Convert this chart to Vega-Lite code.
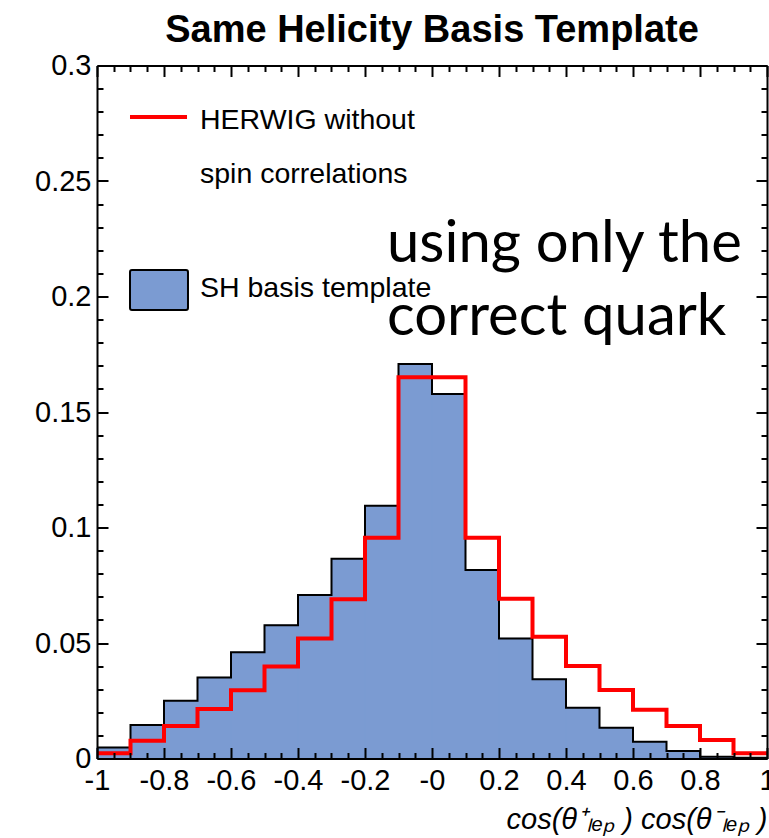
{
  "$schema": "https://vega.github.io/schema/vega-lite/v6.json",
  "width": 670,
  "height": 693,
  "autosize": {"type": "none"},
  "padding": {"left": 97, "top": 65.5, "right": 2, "bottom": 79.5},
  "background": "white",
  "config": {"view": {"stroke": null}, "font": "Liberation Sans"},
  "title": {
    "text": "Same Helicity Basis Template",
    "font": "Liberation Sans",
    "fontSize": 38,
    "fontWeight": "bold",
    "color": "black",
    "anchor": "middle",
    "baseline": "alphabetic",
    "offset": -28
  },
  "datasets": {
    "bins": [
      {"lo": -1, "hi": -0.9, "sh": 0.0048, "hw": 0.0023},
      {"lo": -0.9, "hi": -0.8, "sh": 0.0145, "hw": 0.0077},
      {"lo": -0.8, "hi": -0.7, "sh": 0.025, "hw": 0.0141},
      {"lo": -0.7, "hi": -0.6, "sh": 0.0351, "hw": 0.0214},
      {"lo": -0.6, "hi": -0.5, "sh": 0.046, "hw": 0.0295},
      {"lo": -0.5, "hi": -0.4, "sh": 0.0577, "hw": 0.0398},
      {"lo": -0.4, "hi": -0.3, "sh": 0.0708, "hw": 0.052},
      {"lo": -0.3, "hi": -0.2, "sh": 0.0865, "hw": 0.0689},
      {"lo": -0.2, "hi": -0.1, "sh": 0.1094, "hw": 0.0956},
      {"lo": -0.1, "hi": 0, "sh": 0.1708, "hw": 0.165},
      {"lo": 0, "hi": 0.1, "sh": 0.1578, "hw": 0.165},
      {"lo": 0.1, "hi": 0.2, "sh": 0.0816, "hw": 0.0956},
      {"lo": 0.2, "hi": 0.3, "sh": 0.052, "hw": 0.0692},
      {"lo": 0.3, "hi": 0.4, "sh": 0.0343, "hw": 0.0527},
      {"lo": 0.4, "hi": 0.5, "sh": 0.022, "hw": 0.04},
      {"lo": 0.5, "hi": 0.6, "sh": 0.0133, "hw": 0.0297},
      {"lo": 0.6, "hi": 0.7, "sh": 0.0073, "hw": 0.0211},
      {"lo": 0.7, "hi": 0.8, "sh": 0.0032, "hw": 0.0141},
      {"lo": 0.8, "hi": 0.9, "sh": 0.0008, "hw": 0.008},
      {"lo": 0.9, "hi": 1, "sh": 0.0003, "hw": 0.0023}
    ]
  },
  "resolve": {"axis": {"x": "independent", "y": "independent"}},
  "layer": [
    {
      "data": {"name": "bins"},
      "mark": {"type": "rect", "fill": "#7b9bd2", "stroke": "#7b9bd2", "strokeWidth": 1},
      "encoding": {
        "x": {
          "field": "lo", "type": "quantitative",
          "scale": {"domain": [-1, 1], "nice": false, "zero": false},
          "axis": {
            "orient": "bottom",
            "values": [-1,-0.95,-0.9,-0.85,-0.8,-0.75,-0.7,-0.65,-0.6,-0.55,-0.5,-0.45,-0.4,-0.35,-0.3,-0.25,-0.2,-0.15,-0.1,-0.05,0,0.05,0.1,0.15,0.2,0.25,0.3,0.35,0.4,0.45,0.5,0.55,0.6,0.65,0.7,0.75,0.8,0.85,0.9,0.95,1],
            "tickSize": {"condition": {"test": "abs(round(datum.value*20)) % 4 == 0", "value": -11}, "value": -6},
            "tickWidth": 2, "tickColor": "black",
            "domainColor": "black", "domainWidth": 2,
            "grid": false,
            "labelExpr": "abs(round(datum.value*20)) % 4 == 0 ? (datum.value == 0 ? '-0' : '' + datum.value) : ''",
            "labelFont": "Liberation Sans", "labelFontSize": 29, "labelColor": "black",
            "labelPadding": 19, "labelFlush": false, "labelOverlap": false, "labelBound": false,
            "title": "cos(θ⁺ₗₑₚ ) cos(θ⁻ₗₑₚ )",
            "titleFont": "Liberation Sans", "titleFontSize": 29, "titleFontStyle": "italic", "titleFontWeight": "normal",
            "titleColor": "black", "titleAnchor": "end", "titlePadding": 5,
            "zindex": 1
          }
        },
        "x2": {"field": "hi"},
        "y": {
          "field": "sh", "type": "quantitative",
          "scale": {"domain": [0, 0.3], "nice": false},
          "axis": {
            "orient": "left",
            "values": [0,0.01,0.02,0.03,0.04,0.05,0.06,0.07,0.08,0.09,0.1,0.11,0.12,0.13,0.14,0.15,0.16,0.17,0.18,0.19,0.2,0.21,0.22,0.23,0.24,0.25,0.26,0.27,0.28,0.29,0.3],
            "tickSize": {"condition": {"test": "abs(round(datum.value*100)) % 5 == 0", "value": -11}, "value": -6},
            "tickWidth": 2, "tickColor": "black",
            "domainColor": "black", "domainWidth": 2,
            "grid": false,
            "labelExpr": "abs(round(datum.value*100)) % 5 == 0 ? '' + datum.value : ''",
            "labelFont": "Liberation Sans", "labelFontSize": 29, "labelColor": "black",
            "labelPadding": 17, "labelFlush": false, "labelOverlap": false, "labelBound": false,
            "title": null,
            "zindex": 1
          }
        },
        "y2": {"datum": 0}
      }
    },
    {
      "data": {"name": "bins"},
      "transform": [{"fold": ["lo", "hi"], "as": ["edge", "xe"]}],
      "mark": {"type": "line", "color": "black", "strokeWidth": 2, "strokeJoin": "miter"},
      "encoding": {
        "x": {
          "field": "xe", "type": "quantitative",
          "axis": {
            "orient": "top",
            "values": [-1,-0.95,-0.9,-0.85,-0.8,-0.75,-0.7,-0.65,-0.6,-0.55,-0.5,-0.45,-0.4,-0.35,-0.3,-0.25,-0.2,-0.15,-0.1,-0.05,0,0.05,0.1,0.15,0.2,0.25,0.3,0.35,0.4,0.45,0.5,0.55,0.6,0.65,0.7,0.75,0.8,0.85,0.9,0.95,1],
            "tickSize": {"condition": {"test": "abs(round(datum.value*20)) % 4 == 0", "value": -11}, "value": -6},
            "tickWidth": 2, "tickColor": "black",
            "domainColor": "black", "domainWidth": 2,
            "grid": false, "labels": false, "title": null, "zindex": 1
          }
        },
        "y": {
          "field": "sh", "type": "quantitative",
          "axis": {
            "orient": "right",
            "values": [0,0.01,0.02,0.03,0.04,0.05,0.06,0.07,0.08,0.09,0.1,0.11,0.12,0.13,0.14,0.15,0.16,0.17,0.18,0.19,0.2,0.21,0.22,0.23,0.24,0.25,0.26,0.27,0.28,0.29,0.3],
            "tickSize": {"condition": {"test": "abs(round(datum.value*100)) % 5 == 0", "value": -11}, "value": -6},
            "tickWidth": 2, "tickColor": "black",
            "domainColor": "black", "domainWidth": 2,
            "grid": false, "labels": false, "title": null, "zindex": 1
          }
        },
        "order": [{"field": "xe", "type": "quantitative"}, {"field": "edge", "type": "ordinal"}]
      }
    },
    {
      "data": {"name": "bins"},
      "transform": [{"fold": ["lo", "hi"], "as": ["edge", "xe"]}],
      "mark": {"type": "line", "color": "#ff0000", "strokeWidth": 4, "strokeJoin": "miter"},
      "encoding": {
        "x": {"field": "xe", "type": "quantitative", "axis": null},
        "y": {"field": "hw", "type": "quantitative", "axis": null},
        "order": [{"field": "xe", "type": "quantitative"}, {"field": "edge", "type": "ordinal"}]
      }
    },
    {
      "data": {"values": [{}]},
      "mark": {"type": "rule", "color": "#ff0000", "strokeWidth": 4},
      "encoding": {
        "x": {"datum": -0.9015, "type": "quantitative", "axis": null},
        "x2": {"datum": -0.7313},
        "y": {"datum": 0.2777, "type": "quantitative", "axis": null}
      }
    },
    {
      "data": {"values": [{}]},
      "mark": {"type": "rect", "fill": "#7b9bd2", "stroke": "black", "strokeWidth": 2, "cornerRadius": 2},
      "encoding": {
        "x": {"datum": -0.9015, "type": "quantitative", "axis": null},
        "x2": {"datum": -0.7284},
        "y": {"datum": 0.2115, "type": "quantitative", "axis": null},
        "y2": {"datum": 0.1942}
      }
    },
    {
      "data": {"values": [{}]},
      "mark": {"type": "text", "text": ["HERWIG without", "spin correlations"], "lineHeight": 54, "align": "left", "baseline": "alphabetic", "font": "Liberation Sans", "fontSize": 28.5, "color": "black"},
      "encoding": {
        "x": {"datum": -0.6925, "type": "quantitative", "axis": null},
        "y": {"datum": 0.2725, "type": "quantitative", "axis": null}
      }
    },
    {
      "data": {"values": [{}]},
      "mark": {"type": "text", "text": "SH basis template", "align": "left", "baseline": "alphabetic", "font": "Liberation Sans", "fontSize": 28.5, "color": "black"},
      "encoding": {
        "x": {"datum": -0.6925, "type": "quantitative", "axis": null},
        "y": {"datum": 0.1998, "type": "quantitative", "axis": null}
      }
    },
    {
      "data": {"values": [{}]},
      "mark": {"type": "text", "text": ["using only the", "correct quark"], "lineHeight": 73, "align": "left", "baseline": "alphabetic", "font": "Lato", "fontSize": 58, "color": "black"},
      "encoding": {
        "x": {"datum": -0.1343, "type": "quantitative", "axis": null},
        "y": {"datum": 0.2149, "type": "quantitative", "axis": null}
      }
    }
  ]
}
